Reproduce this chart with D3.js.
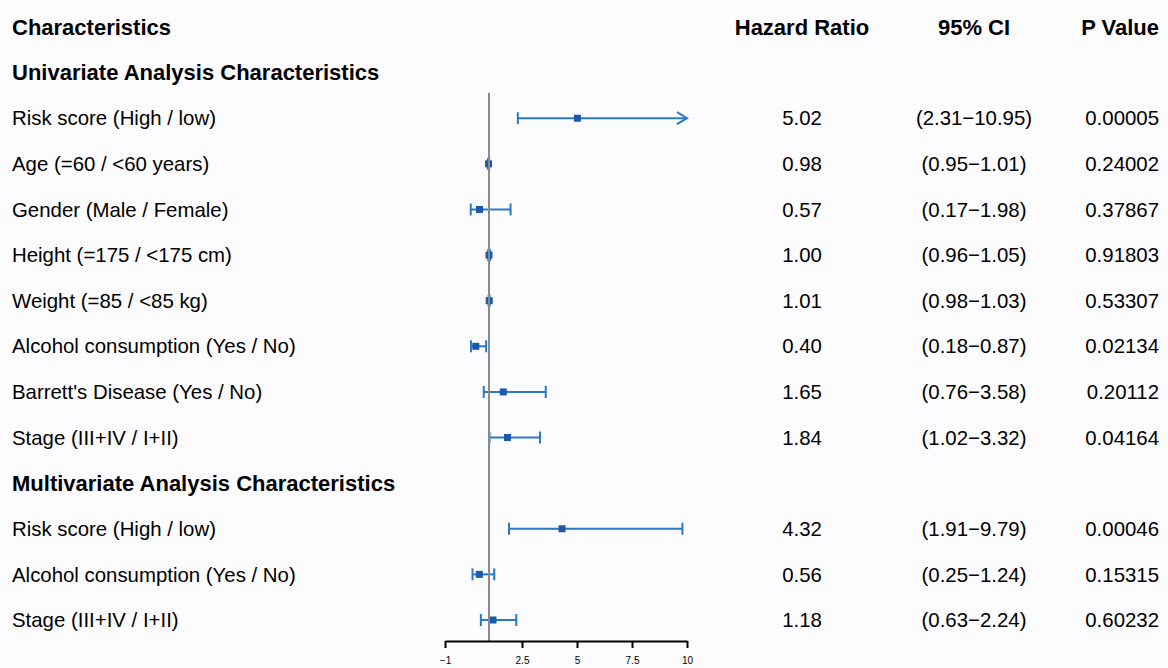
<!DOCTYPE html>
<html>
<head>
<meta charset="utf-8">
<script src="https://cdn.jsdelivr.net/npm/d3@7"></script>
<style>
    body { margin: 0; background: #fcfcfe; }
    svg { display: block; font-family: "Liberation Sans", Arial, sans-serif; }
</style>
</head>
<body>
<svg id="chart" width="1168" height="668"></svg>
<script>
// rows of the table, top to bottom ("header" rows are bold section titles)
const labels = [
    'Univariate Analysis Characteristics',
    'Risk score (High / low)',
    'Age (=60 / <60 years)',
    'Gender (Male / Female)',
    'Height (=175 / <175 cm)',
    'Weight (=85 / <85 kg)',
    'Alcohol consumption (Yes / No)',
    "Barrett's Disease (Yes / No)",
    'Stage (III+IV / I+II)',
    'Multivariate Analysis Characteristics',
    'Risk score (High / low)',
    'Alcohol consumption (Yes / No)',
    'Stage (III+IV / I+II)'
];
const isHeader = [true, false, false, false, false, false, false, false, false, true, false, false, false];
const hazard = [null, 5.02, 0.98, 0.57, 1.00, 1.01, 0.40, 1.65, 1.84, null, 4.32, 0.56, 1.18];
const lower = [null, 2.31, 0.95, 0.17, 0.96, 0.98, 0.18, 0.76, 1.02, null, 1.91, 0.25, 0.63];
const upper = [null, 10.95, 1.01, 1.98, 1.05, 1.03, 0.87, 3.58, 3.32, null, 9.79, 1.24, 2.24];
const pValues = ['', '0.00005', '0.24002', '0.37867', '0.91803', '0.53307', '0.02134', '0.20112', '0.04164',
    '', '0.00046', '0.15315', '0.60232'];
const ticks = [-1, 2.5, 5, 7.5, 10];
const columns = ['Hazard Ratio', '95% CI', 'P Value'];

const svg = d3.select('#chart');
const blue = '#2a78c8', darkBlue = '#1a5aa8';
const boldSize = '22px', textSize = '20.4px';

let x = d3.scaleLinear().domain([-1, 10]).range([445, 687]);
let y = d3.scaleLinear().domain([0, 13]).range([27, 620]);  // row 0 = column titles

let fmtCI = i => '(' + lower[i].toFixed(2) + '\u2212' + upper[i].toFixed(2) + ')';

// column titles
svg.append('text')
    .attr('x', 12).attr('y', y(0)).attr('dy', '0.35em')
    .style('font-size', boldSize).style('font-weight', 'bold')
    .text('Characteristics');
let colX = [802, 974, 1159], colAnchor = ['middle', 'middle', 'end'];
columns.forEach((c, k) => {
    svg.append('text')
        .attr('x', colX[k]).attr('y', y(0)).attr('dy', '0.35em')
        .attr('text-anchor', colAnchor[k])
        .style('font-size', boldSize).style('font-weight', 'bold')
        .text(c);
});

// row labels and values
let rows = svg.selectAll('.row')
    .data(labels.map((l, i) => i))
  .enter().append('g')
    .attr('class', 'row')
    .attr('transform', i => 'translate(0,' + y(i + 1) + ')');

rows.append('text')
    .attr('x', 12).attr('dy', '0.35em')
    .style('font-size', i => isHeader[i] ? boldSize : textSize)
    .style('font-weight', i => isHeader[i] ? 'bold' : 'normal')
    .text(i => labels[i]);

let dataRows = rows.filter(i => !isHeader[i]);
dataRows.append('text')
    .attr('x', colX[0]).attr('dy', '0.35em').attr('text-anchor', 'middle')
    .style('font-size', textSize)
    .text(i => hazard[i].toFixed(2));
dataRows.append('text')
    .attr('x', colX[1]).attr('dy', '0.35em').attr('text-anchor', 'middle')
    .style('font-size', textSize)
    .text(fmtCI);
dataRows.append('text')
    .attr('x', colX[2]).attr('dy', '0.35em').attr('text-anchor', 'end')
    .style('font-size', textSize)
    .text(i => pValues[i]);

// reference line at HR = 1
const axisY = 641;
svg.append('line')
    .attr('x1', x(1)).attr('x2', x(1))
    .attr('y1', 93).attr('y2', axisY)
    .attr('stroke', '#8a8a8a').attr('stroke-width', 2);

// confidence intervals
const maxX = x.domain()[1];
dataRows.append('line')
    .attr('x1', i => x(lower[i]))
    .attr('x2', i => x(Math.min(upper[i], maxX)))
    .attr('stroke', blue).attr('stroke-width', 2);

dataRows.append('line')
    .attr('x1', i => x(lower[i])).attr('x2', i => x(lower[i]))
    .attr('y1', -6).attr('y2', 6)
    .attr('stroke', blue).attr('stroke-width', 2);

dataRows.filter(i => upper[i] <= maxX).append('line')
    .attr('x1', i => x(upper[i])).attr('x2', i => x(upper[i]))
    .attr('y1', -6).attr('y2', 6)
    .attr('stroke', blue).attr('stroke-width', 2);

// clipped interval gets an open arrow head
dataRows.filter(i => upper[i] > maxX).append('path')
    .attr('d', 'M' + (x(maxX) - 10) + ',-6L' + x(maxX) + ',0L' + (x(maxX) - 10) + ',6')
    .attr('fill', 'none').attr('stroke', blue).attr('stroke-width', 2);

dataRows.append('rect')
    .attr('x', i => x(hazard[i]) - 3.5).attr('y', -3.5)
    .attr('width', 7).attr('height', 7)
    .attr('fill', darkBlue);

// x axis
let axis = svg.append('g')
    .attr('transform', 'translate(0,' + axisY + ')')
    .call(d3.axisBottom(x).tickValues(ticks).tickSize(7).tickSizeOuter(0).tickFormat(d3.format('')));
axis.select('.domain').attr('stroke', '#000').attr('stroke-width', 2);
axis.selectAll('.tick line').attr('stroke', '#000').attr('stroke-width', 2);
axis.selectAll('.tick text')
    .attr('y', 16)
    .style('font-family', '"Liberation Sans", Arial, sans-serif')
    .style('font-size', '10px').attr('fill', '#000');
</script>
</body>
</html>
